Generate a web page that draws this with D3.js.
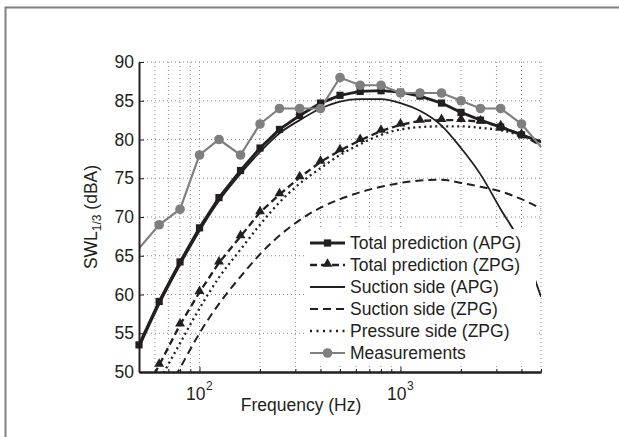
<!DOCTYPE html>
<html>
<head>
<meta charset="utf-8">
<script src="https://cdn.jsdelivr.net/npm/d3@7"></script>
<style>
body { margin: 0; background: #fff; }
svg { display: block; font-family: "Liberation Sans", Arial, Helvetica, sans-serif; }
</style>
</head>
<body>
<script>
// third-octave bands, values (dBA)
var freqTotal = [50,63,80,100,125,160,200,250,315,400,500,630,800,1000,1250,1600,2000,2500,3150,4000,6300]
var totalAPG = [53.5,59.1,64.2,68.6,72.5,76.0,78.9,81.3,83.1,84.7,85.7,86.2,86.3,86.1,85.6,84.7,83.5,82.5,81.6,80.6,78.8]
var totalZPG = [46.0,50.9,56.1,60.3,64.1,67.5,70.6,72.9,75.1,77.1,78.6,79.9,81.1,81.9,82.4,82.5,82.5,82.3,81.7,80.6,77.8]

var freqCurve = [50,63,80,100,125,160,200,250,315,400,500,630,800,1000,1250,1600,2000,2500,3150,4000,5000]
var suctionAPG = [53.1,58.7,63.8,68.2,72.1,75.6,78.4,80.8,82.5,84.0,84.9,85.2,85.2,84.7,83.7,81.8,78.9,75.5,71.0,66.4,59.7]
var suctionZPG = [40.5,45.5,50.5,55.0,58.8,62.3,65.2,67.6,69.6,71.2,72.3,73.2,73.9,74.4,74.7,74.8,74.4,73.9,73.3,72.3,71.1]
var pressureZPG = [43.5,48.8,53.7,58.2,62.2,65.8,69.0,71.9,74.3,76.3,78.0,79.4,80.6,81.3,81.6,81.7,81.7,81.5,81.2,80.5,79.8]

var freqMeas = [40,63,80,100,125,160,200,250,315,400,500,630,800,1000,1250,1600,2000,2500,3150,4000,6300]
var measured = [63,69,71,78,80,78,82,84,84,84,88,87,87,86,86,86,85,84,84,82,76]

var yTicks = [50,55,60,65,70,75,80,85,90]
var xMajor = [100,1000]
var xMajorExp = ["2","3"]
var xMinor = [60,70,80,90,200,300,400,500,600,700,800,900,2000,3000,4000,5000]
var legendLabels = ["Total prediction (APG)","Total prediction (ZPG)","Suction side (APG)","Suction side (ZPG)","Pressure side (ZPG)","Measurements"]

var w = 619, h = 437
var pLeft = 139, pRight = 541, pTop = 62, pBottom = 372
var ink = "#231f20", grey = "#7f7f7f"

var svg = d3.select("body").append("svg")
.attr("width", w)
.attr("height", h)

// frame of the figure (cut off at right/bottom)
svg.append("rect")
.attr("x",5.5).attr("y",7.5)
.attr("width",720).attr("height",520)
.attr("fill","none")
.attr("stroke","#808080")
.attr("stroke-width",2)

var x = d3.scaleLog().domain([50,5000]).range([pLeft,pRight])
var y = d3.scaleLinear().domain([50,90]).range([pBottom,pTop])

// grid
var grid = svg.append("g")
grid.selectAll("line.h").data(yTicks.filter(function(d){return d>50}))
.enter().append("line")
.attr("x1",pLeft).attr("x2",pRight)
.attr("y1",function(d){return y(d)}).attr("y2",function(d){return y(d)})
.attr("stroke","#8a8a8a").attr("stroke-width",1)
.attr("stroke-dasharray","1,3")
grid.selectAll("line.v").data(xMinor.concat(xMajor))
.enter().append("line")
.attr("x1",function(d){return x(d)}).attr("x2",function(d){return x(d)})
.attr("y1",pTop).attr("y2",pBottom)
.attr("stroke","#8a8a8a").attr("stroke-width",1)
.attr("stroke-dasharray","1,3")

// clip for the curves
svg.append("clipPath").attr("id","plotclip")
.append("rect")
.attr("x",pLeft).attr("y",pTop)
.attr("width",pRight-pLeft).attr("height",pBottom-pTop)

var plot = svg.append("g").attr("clip-path","url(#plotclip)")

function pts(fs, vs) {
var out = []
for (var i = 0; i < fs.length; i++) out.push([fs[i], vs[i]])
return out
}
var lineLin = d3.line().x(function(d){return x(d[0])}).y(function(d){return y(d[1])})
var lineSmooth = d3.line().curve(d3.curveMonotoneX).x(function(d){return x(d[0])}).y(function(d){return y(d[1])})

plot.append("path").attr("d",lineSmooth(pts(freqCurve,suctionZPG)))
.attr("fill","none").attr("stroke",ink).attr("stroke-width",2)
.attr("stroke-dasharray","8,5")
plot.append("path").attr("d",lineSmooth(pts(freqCurve,pressureZPG)))
.attr("fill","none").attr("stroke",ink).attr("stroke-width",2.3)
.attr("stroke-dasharray","2,3.5")
plot.append("path").attr("d",lineLin(pts(freqTotal,totalZPG)))
.attr("fill","none").attr("stroke",ink).attr("stroke-width",2.3)
.attr("stroke-dasharray","7,4")
plot.append("path").attr("d",lineSmooth(pts(freqCurve,suctionAPG)))
.attr("fill","none").attr("stroke",ink).attr("stroke-width",1.8)
plot.append("path").attr("d",lineLin(pts(freqTotal,totalAPG)))
.attr("fill","none").attr("stroke",ink).attr("stroke-width",2.8)
plot.append("path").attr("d",lineLin(pts(freqMeas,measured)))
.attr("fill","none").attr("stroke",grey).attr("stroke-width",2.2)

function inside(d) { return d[0] >= 50 && d[0] <= 5000 && d[1] >= 50 && d[1] <= 90 }

var tri = d3.symbol().type(d3.symbolTriangle).size(42)
svg.append("g").selectAll("path").data(pts(freqTotal,totalZPG).filter(inside))
.enter().append("path")
.attr("d",tri)
.attr("transform",function(d){return "translate("+x(d[0])+","+(y(d[1])-1)+")"})
.attr("fill",ink)
svg.append("g").selectAll("rect").data(pts(freqTotal,totalAPG).filter(inside))
.enter().append("rect")
.attr("x",function(d){return x(d[0])-3.6}).attr("y",function(d){return y(d[1])-3.6})
.attr("width",7.2).attr("height",7.2)
.attr("fill",ink)
svg.append("g").selectAll("circle").data(pts(freqMeas,measured).filter(inside))
.enter().append("circle")
.attr("cx",function(d){return x(d[0])}).attr("cy",function(d){return y(d[1])})
.attr("r",4.8)
.attr("fill",grey)

// axes
var yAxis = svg.append("g").attr("transform","translate("+pLeft+",0)")
.call(d3.axisLeft(y).tickValues(yTicks).tickSize(-5).tickSizeOuter(0).tickPadding(5))
var xAxisMinor = svg.append("g").attr("transform","translate(0,"+pBottom+")")
.call(d3.axisBottom(x).tickValues(xMinor).tickSize(-3).tickSizeOuter(0).tickFormat(""))
var xAxisMajor = svg.append("g").attr("transform","translate(0,"+pBottom+")")
.call(d3.axisBottom(x).tickValues(xMajor).tickSize(-5).tickSizeOuter(0).tickFormat(""))
svg.selectAll(".domain").attr("stroke",ink).attr("stroke-width",2)
svg.selectAll(".tick line").attr("stroke",ink).attr("stroke-width",1)
yAxis.selectAll("text").style("font-size","17.5px").attr("fill",ink)
.attr("font-family","Liberation Sans, Arial, sans-serif")

xMajor.forEach(function(v,i){
svg.append("text")
.attr("x",x(v)+6).attr("y",400)
.attr("text-anchor","end")
.style("font-size","17.5px").attr("fill",ink)
.text("10")
svg.append("text")
.attr("x",x(v)+6.5).attr("y",390)
.style("font-size","12px").attr("fill",ink)
.text(xMajorExp[i])
})

// axis titles
svg.append("text")
.attr("x",301).attr("y",411)
.attr("text-anchor","middle")
.style("font-size","17.5px").attr("fill",ink)
.text("Frequency (Hz)")
var yl = svg.append("text")
.attr("transform","translate(97,"+((pTop+pBottom)/2)+") rotate(-90)")
.attr("text-anchor","middle")
.style("font-size","17.5px").attr("fill",ink)
yl.append("tspan").text("SWL")
yl.append("tspan").attr("dy",4).style("font-size","12px").text("1/3")
yl.append("tspan").attr("dy",-4).text(" (dBA)")

// legend
var lg = svg.append("g")
lg.append("rect")
.attr("x",305).attr("y",229)
.attr("width",231).attr("height",137)
.attr("fill","#fff")
var rowY = function(i){ return 243 + i*22 }
var lx1 = 310, lx2 = 345, lmid = 327.5
var styles = [
{dash:null, sw:2.8, col:ink, mark:"square"},
{dash:"7,4", sw:2.3, col:ink, mark:"tri"},
{dash:null, sw:1.8, col:ink, mark:null},
{dash:"8,5", sw:2, col:ink, mark:null},
{dash:"2,4.5", sw:2.3, col:ink, mark:null},
{dash:null, sw:2.2, col:grey, mark:"circle"}
]
legendLabels.forEach(function(t,i){
var s = styles[i]
var ln = lg.append("line")
.attr("x1",lx1).attr("x2",lx2)
.attr("y1",rowY(i)).attr("y2",rowY(i))
.attr("stroke",s.col).attr("stroke-width",s.sw)
if (s.dash) ln.attr("stroke-dasharray",s.dash)
if (s.mark == "square")
lg.append("rect").attr("x",lmid-3.6).attr("y",rowY(i)-3.6).attr("width",7.2).attr("height",7.2).attr("fill",ink)
if (s.mark == "tri")
lg.append("path").attr("d",tri).attr("transform","translate("+lmid+","+(rowY(i)-1)+")").attr("fill",ink)
if (s.mark == "circle")
lg.append("circle").attr("cx",lmid).attr("cy",rowY(i)).attr("r",4.8).attr("fill",grey)
lg.append("text")
.attr("x",350).attr("y",rowY(i))
.attr("dominant-baseline","central")
.style("font-size","17.5px").attr("fill",ink)
.text(t)
})
</script>
</body>
</html>
